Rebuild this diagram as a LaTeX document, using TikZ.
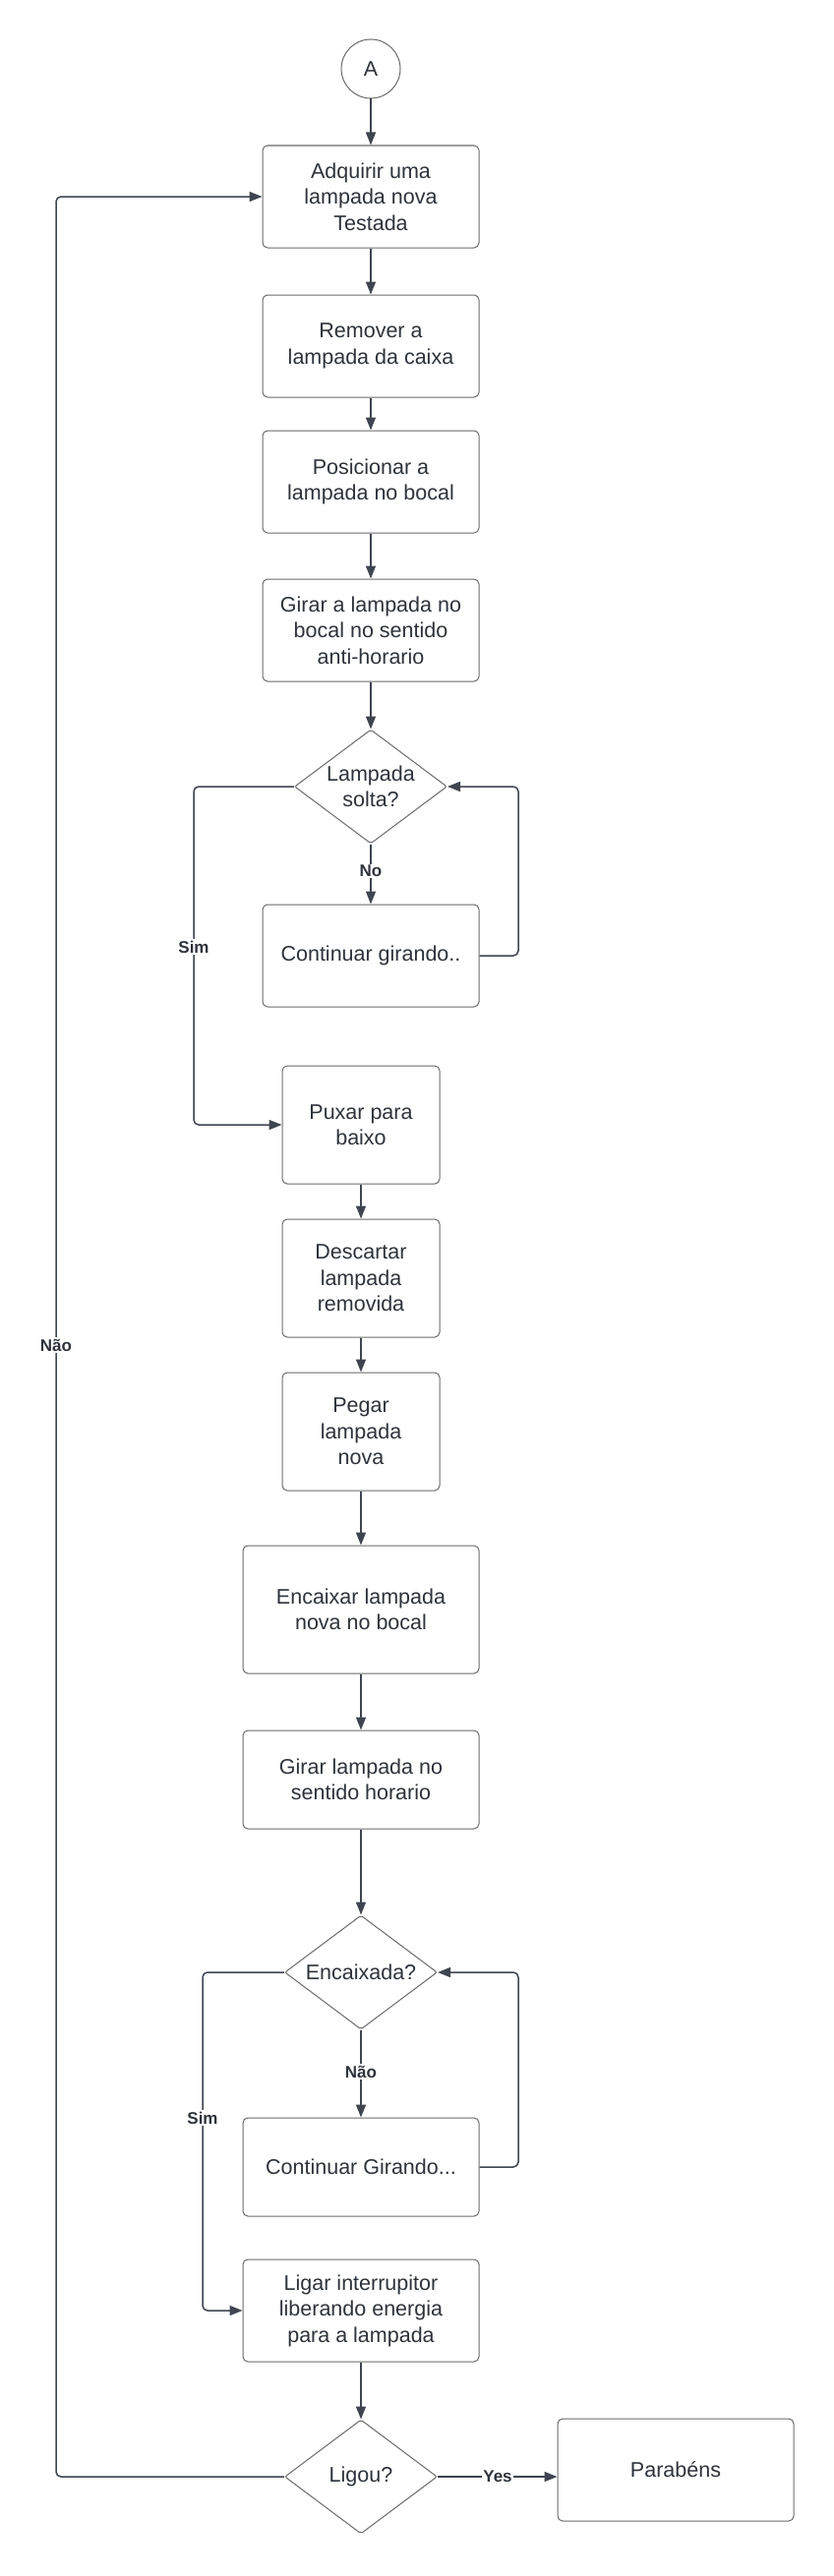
\documentclass[tikz,border=0pt]{standalone}
\usepackage{fontspec}
\setmainfont{Liberation Sans}
\usetikzlibrary{shapes.geometric,arrows.meta}
\definecolor{linec}{HTML}{3F4550}
\definecolor{boxc}{HTML}{6A6A6A}
\definecolor{txtc}{HTML}{2E333B}
\begin{document}
\begin{tikzpicture}[x=1pt,y=-1pt,
  procbox/.style={draw=boxc, line width=1pt, rounded corners=5pt, align=center, text=txtc,
    font=\fontsize{21.5}{26.5}\selectfont, inner sep=0pt},
  decis/.style={draw=boxc, line width=1pt, diamond, shape aspect=1.336, rounded corners=2pt, align=center, text=txtc,
    font=\fontsize{21.5}{26.5}\selectfont, inner sep=0pt, minimum width=155pt, minimum height=116pt},
  conn/.style={draw=linec, line width=1.5pt, rounded corners=5pt,
    -{Triangle[length=13pt,width=10pt]}},
  lbl/.style={fill=white, text=txtc, font=\fontsize{17}{19}\selectfont\bfseries, inner sep=1.5pt}
]
\fill[white] (0,0) rectangle (847,2620);
\useasboundingbox (0,0) rectangle (847,2620);

% nodes
\node[draw=boxc, line width=1pt, circle, minimum size=60pt, inner sep=0pt, text=txtc,
  font=\fontsize{21.5}{26.5}\selectfont] (A) at (377,70) {A};
\node[procbox, minimum width=220pt, minimum height=104pt] (b1) at (377,200) {Adquirir uma\\lampada nova\\Testada};
\node[procbox, minimum width=220pt, minimum height=104pt] (b2) at (377,352) {Remover a\\lampada da caixa};
\node[procbox, minimum width=220pt, minimum height=104pt] (b3) at (377,490) {Posicionar a\\lampada no bocal};
\node[procbox, minimum width=220pt, minimum height=104pt] (b4) at (377,641) {Girar a lampada no\\bocal no sentido\\anti-horario};
\node[decis] (d1) at (377,800) {Lampada\\solta?};
\node[procbox, minimum width=220pt, minimum height=104pt] (cg1) at (377,972) {Continuar girando..};
\node[procbox, minimum width=160pt, minimum height=120pt] (b5) at (367,1144) {Puxar para\\baixo};
\node[procbox, minimum width=160pt, minimum height=120pt] (b6) at (367,1300) {Descartar\\lampada\\removida};
\node[procbox, minimum width=160pt, minimum height=120pt] (b7) at (367,1456) {Pegar\\lampada\\nova};
\node[procbox, minimum width=240pt, minimum height=130pt] (b8) at (367,1637) {Encaixar lampada\\nova no bocal};
\node[procbox, minimum width=240pt, minimum height=100pt] (b9) at (367,1810) {Girar lampada no\\sentido horario};
\node[decis] (d2) at (367,2006) {Encaixada?};
\node[procbox, minimum width=240pt, minimum height=100pt] (cg2) at (367,2204) {Continuar Girando...};
\node[procbox, minimum width=240pt, minimum height=104pt] (b10) at (367,2350) {Ligar interrupitor\\liberando energia\\para a lampada};
\node[decis] (d3) at (367,2519) {Ligou?};
\node[procbox, minimum width=240pt, minimum height=104pt] (par) at (687,2512) {Parabéns};

% bend coordinates
\coordinate (r1) at (527,800);
\coordinate (l1) at (197,800);
\coordinate (r2) at (527,2006);
\coordinate (l2) at (206,2006);
\coordinate (l3) at (57,2519);

% connectors
\draw[conn] (A) -- (b1);
\draw[conn] (b1) -- (b2);
\draw[conn] (b2) -- (b3);
\draw[conn] (b3) -- (b4);
\draw[conn] (b4) -- (d1);
\draw[conn] (d1) -- (cg1);
\draw[conn] (cg1.east) -| (r1) -- (d1.east);
\draw[conn] (d1.west) -- (l1) |- (b5.west);
\draw[conn] (b5) -- (b6);
\draw[conn] (b6) -- (b7);
\draw[conn] (b7) -- (b8);
\draw[conn] (b8) -- (b9);
\draw[conn] (b9) -- (d2);
\draw[conn] (d2) -- (cg2);
\draw[conn] (cg2.east) -| (r2) -- (d2.east);
\draw[conn] (d2.west) -- (l2) |- (b10.west);
\draw[conn] (b10) -- (d3);
\draw[conn] (d3.east) -- (d3.east -| par.west);
\draw[conn] (d3.west) -- (l3) |- (b1.west);

% labels
\node[lbl] (lno1) at (377,886) {No};
\node[lbl] (lsim1) at (197,963) {Sim};
\node[lbl] (lnao2) at (367,2107) {Não};
\node[lbl] (lsim2) at (206,2154) {Sim};
\node[lbl] (lyes) at (506,2519) {Yes};
\node[lbl] (lnao3) at (57,1368) {Não};
\end{tikzpicture}
\end{document}
